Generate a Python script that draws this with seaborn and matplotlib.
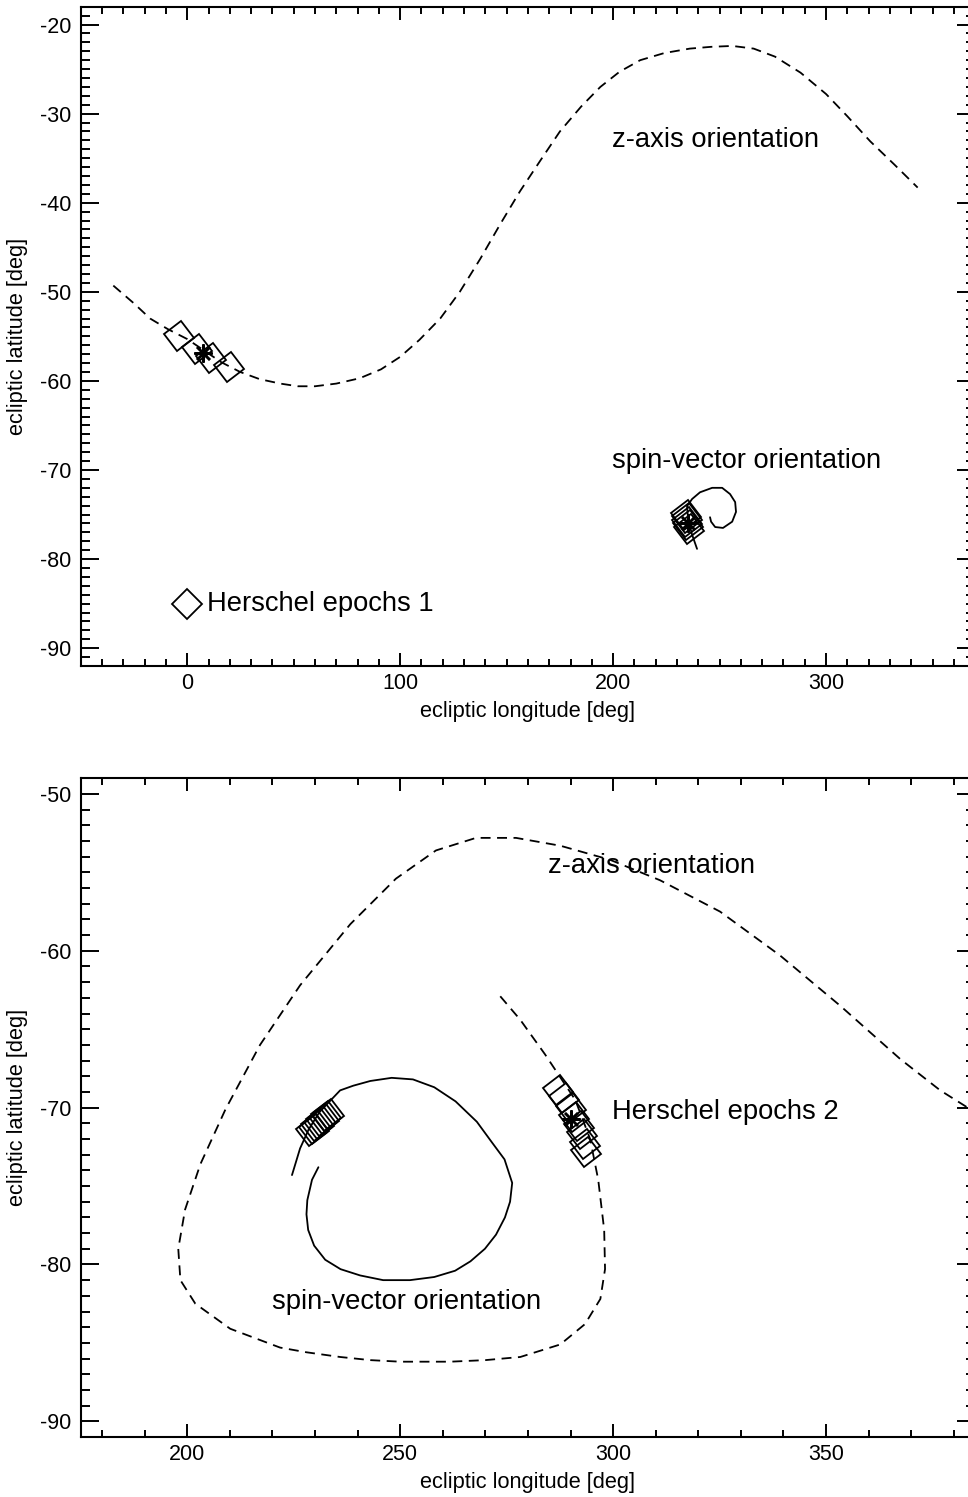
import numpy as np
import pandas as pd
import matplotlib
matplotlib.use("Agg")
import matplotlib.pyplot as plt
import seaborn as sns
from matplotlib.ticker import MultipleLocator
from matplotlib.markers import MarkerStyle
from matplotlib.transforms import Affine2D

# ---- panel 1 data (ecliptic lon / lat, deg) ----
z1_lon = [-34.7, -25, -17.4, -9, 0, 8, 16, 24.9, 34, 43.7, 52, 60, 70, 81, 91, 100, 109,
          118.8, 128, 137.6, 147, 156.3, 166, 175, 185, 194, 203, 212.7, 224, 236, 246,
          256, 266, 276, 288, 300, 310, 320.7, 332, 343]
z1_lat = [-49.3, -51.3, -53.0, -54.2, -55.3, -56.6, -57.9, -59.0, -59.8, -60.3, -60.6,
          -60.6, -60.3, -59.7, -58.7, -57.3, -55.4, -53.0, -50.0, -46.3, -42.4, -38.7,
          -35.2, -32.0, -29.2, -27.0, -25.3, -24.0, -23.2, -22.7, -22.5, -22.4, -22.7,
          -23.6, -25.4, -27.8, -30.3, -33.1, -35.7, -38.3]

s1_lon = [239.4, 237.0, 235.2, 234.7, 237.1, 240.8, 246.5, 251.2, 254.9, 257.3, 257.7,
          255.9, 251.6, 247.9, 246.0, 245.5]
s1_lat = [-78.85, -77.2, -75.5, -74.05, -73.25, -72.5, -72.0, -72.0, -72.7, -73.6, -74.7,
          -75.8, -76.5, -76.4, -75.8, -75.3]

h1_z_lon = [-3.8, 4.7, 11.3, 19.7]
h1_z_lat = [-55.0, -56.4, -57.4, -58.4]
h1_z_mean = (7.5, -56.9)
h1_s_lon = [235.4, 235.1, 234.8, 234.5, 234.2]
h1_s_lat = [-76.6, -76.2, -75.8, -75.4, -75.1]
h1_s_mean = (235.2, -76.0)

# ---- panel 2 data ----
z2_lon = [273.5, 278.2, 284.0, 291.1, 294.6, 296.5, 297.9, 298.1, 297.0, 293.4, 287.6,
          278.2, 270, 261.7, 250.0, 243, 235.9, 228, 221.8, 210.1, 201.9, 198.4, 197.9,
          199.5, 203.1, 209.0, 217.1, 226.5, 238.3, 249.0, 258.4, 267.8, 277.2, 287.6,
          299.3, 311.0, 325.1, 339.2, 353.3, 367.4, 376.8, 385]
z2_lat = [-62.9, -64.4, -66.6, -69.5, -72.0, -74.6, -77.8, -80.3, -82.2, -83.8, -85.1,
          -85.9, -86.1, -86.2, -86.2, -86.1, -85.9, -85.6, -85.3, -84.1, -82.5, -81.0,
          -79.0, -76.5, -73.6, -70.1, -66.0, -62.2, -58.3, -55.4, -53.6, -52.8, -52.8,
          -53.3, -54.2, -55.5, -57.5, -60.3, -63.5, -66.9, -68.9, -70.3]

s2_lon = [224.6, 226.5, 228.5, 231.0, 235.9, 239.0, 243.0, 248, 253, 258, 263, 268,
          271.5, 274.5, 276.3, 275.8, 274.6, 272.5, 269.9, 266.5, 262.9, 258, 252.3,
          246, 240.6, 236, 232.4, 229.8, 228.4, 228.0, 228.2, 229.3, 230.8]
s2_lat = [-74.3, -72.6, -71.4, -70.3, -68.9, -68.6, -68.3, -68.1, -68.2, -68.7, -69.6,
          -70.9, -72.2, -73.3, -74.8, -76.0, -77.0, -78.1, -79.0, -79.8, -80.4, -80.8,
          -81.0, -81.0, -80.7, -80.3, -79.7, -78.8, -77.8, -76.8, -75.9, -74.6, -73.8]

h2_z_lon = [287.1, 288.5, 290.1, 290.9, 292.0, 292.8, 293.5, 293.6]
h2_z_lat = [-68.9, -69.4, -70.0, -70.6, -71.2, -71.7, -72.3, -72.8]
h2_z_mean = (290.1, -70.7)
h2_s_lon = [229.1, 229.7, 230.3, 230.9, 231.5, 232.1, 232.7, 233.3]
h2_s_lat = [-71.5, -71.35, -71.2, -71.05, -70.85, -70.7, -70.55, -70.4]

sns.set_style("white")
plt.rcParams["font.family"] = ["Liberation Sans", "DejaVu Sans"]
plt.rcParams["axes.unicode_minus"] = False
plt.rcParams["text.color"] = "k"
plt.rcParams["axes.labelcolor"] = "k"

fig = plt.figure(figsize=(9.68, 14.97), dpi=100)
ax1 = fig.add_axes([0.0834, 0.5551, 0.924, 0.4404])
ax2 = fig.add_axes([0.0834, 0.0401, 0.924, 0.4400])

dash = (0, (5.5, 3.6))
tilt = MarkerStyle("D", transform=Affine2D().rotate_deg(-8))
mk = dict(marker=tilt, ms=15.5, mfc="none", mec="k", mew=1.3, ls="none")
leg = dict(marker="D", ms=15.5, mfc="none", mec="k", mew=1.3, ls="none")
star = dict(marker=(8, 2, 0), ms=13, mec="k", mew=1.8, ls="none")
fs_note = 19.7

# top panel
sns.lineplot(x=z1_lon, y=z1_lat, sort=False, estimator=None, color="k", lw=1.3,
             ax=ax1).lines[-1].set_linestyle(dash)
sns.lineplot(x=s1_lon, y=s1_lat, sort=False, estimator=None, color="k", lw=1.3, ax=ax1)
ax1.plot(h1_z_lon, h1_z_lat, **mk)
ax1.plot(*h1_z_mean, **star)
ax1.plot(h1_s_lon, h1_s_lat, **mk)
ax1.plot(*h1_s_mean, **star)
ax1.plot(0, -85.0, **leg)
ax1.text(9.4, -85.0, "Herschel epochs 1", fontsize=fs_note, va="center")
ax1.text(199.5, -33.0, "z-axis orientation", fontsize=fs_note, va="center")
ax1.text(199.5, -69.0, "spin-vector orientation", fontsize=fs_note, va="center")
ax1.set_xlim(-50, 370)
ax1.set_ylim(-92, -18)
ax1.xaxis.set_major_locator(MultipleLocator(100))
ax1.xaxis.set_minor_locator(MultipleLocator(10))
ax1.yaxis.set_major_locator(MultipleLocator(10))
ax1.yaxis.set_minor_locator(MultipleLocator(1))

# bottom panel
sns.lineplot(x=z2_lon, y=z2_lat, sort=False, estimator=None, color="k", lw=1.3,
             ax=ax2).lines[-1].set_linestyle(dash)
sns.lineplot(x=s2_lon, y=s2_lat, sort=False, estimator=None, color="k", lw=1.3, ax=ax2)
ax2.plot(h2_z_lon, h2_z_lat, **mk)
ax2.plot(*h2_z_mean, **star)
ax2.plot(h2_s_lon, h2_s_lat, **mk)
ax2.text(299.8, -70.3, "Herschel epochs 2", fontsize=fs_note, va="center")
ax2.text(284.7, -54.6, "z-axis orientation", fontsize=fs_note, va="center")
ax2.text(220.0, -82.4, "spin-vector orientation", fontsize=fs_note, va="center")
ax2.set_xlim(175, 385)
ax2.set_ylim(-91, -49)
ax2.xaxis.set_major_locator(MultipleLocator(50))
ax2.xaxis.set_minor_locator(MultipleLocator(10))
ax2.yaxis.set_major_locator(MultipleLocator(10))
ax2.yaxis.set_minor_locator(MultipleLocator(1))

for ax in (ax1, ax2):
    for sp in ax.spines.values():
        sp.set_linewidth(1.5)
        sp.set_visible(True)
        sp.set_color("k")
    ax.tick_params(which="both", direction="in", top=True, right=True, bottom=True,
                   left=True, width=1.4, labelsize=15.5, colors="k")
    ax.tick_params(axis="x", which="major", length=9.5, pad=5)
    ax.tick_params(axis="x", which="minor", length=4.7)
    ax.tick_params(axis="y", which="major", length=12.7, pad=6.5)
    ax.tick_params(axis="y", which="minor", length=6.4)
    ax.set_xlabel("ecliptic longitude [deg]", fontsize=15.7, labelpad=5)
    ax.set_ylabel("ecliptic latitude [deg]", fontsize=15.7)
    ax.yaxis.set_label_coords(-0.059, 0.5)

fig.savefig("out.png", dpi=100)
